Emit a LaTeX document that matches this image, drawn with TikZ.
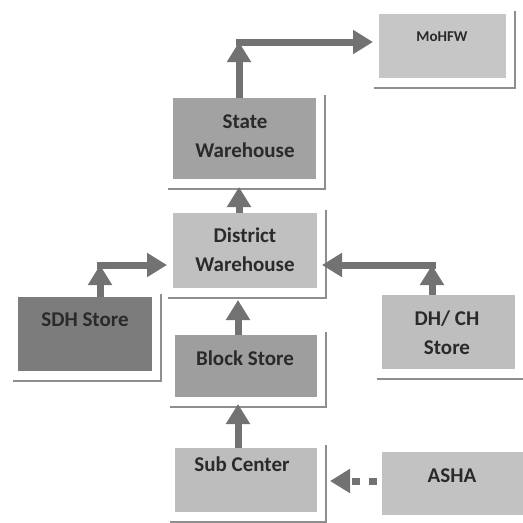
\documentclass[tikz,border=0pt]{standalone}
\usepackage{fontspec}
\setmainfont{Carlito}
\usetikzlibrary{arrows.meta}
\definecolor{txt}{HTML}{2A2A2A}
\definecolor{arrc}{HTML}{727272}
\definecolor{frm}{HTML}{8E8E8E}
\definecolor{cmo}{HTML}{C6C6C6}
\definecolor{cst}{HTML}{A2A2A2}
\definecolor{cdi}{HTML}{C0C0C0}
\definecolor{csd}{HTML}{7C7C7C}
\definecolor{cbl}{HTML}{9E9E9E}
\definecolor{cdh}{HTML}{BEBEBE}
\definecolor{csu}{HTML}{BDBDBD}
\definecolor{cas}{HTML}{C2C2C2}
\tikzset{
  box/.style={draw=none, rectangle, inner sep=0pt},
  lbl/.style={font=\fontsize{21}{29}\selectfont\bfseries, text=txt, align=center, inner sep=0pt},
  arr/.style={draw=arrc, line width=7pt, -{Triangle[width=23pt,length=20pt]}},
  frameline/.style={draw=frm, line width=1.8pt},
}
\newcommand{\frameof}[1]{\draw[frameline] ([xshift=-5pt,yshift=-10pt]#1.south west) -- ([xshift=9pt,yshift=-10pt]#1.south east) -- ([xshift=9pt,yshift=3pt]#1.north east);}
\begin{document}
\begin{tikzpicture}[x=1pt,y=-1pt]
\useasboundingbox[fill=white] (0,0) rectangle (523,523);
% boxes
\node[box, fill=cmo, minimum width=127pt, minimum height=64pt] (mohfw) at (442.5,46) {};
\node[box, fill=cst, minimum width=143pt, minimum height=81pt] (state) at (244.5,138.5) {};
\node[box, fill=cdi, minimum width=144pt, minimum height=75pt] (district) at (245,250.5) {};
\node[box, fill=csd, minimum width=134pt, minimum height=74pt] (sdh) at (85,334) {};
\node[box, fill=cbl, minimum width=142pt, minimum height=62pt] (block) at (246,366) {};
\node[box, fill=cdh, minimum width=133pt, minimum height=74pt] (dhch) at (448.5,332) {};
\node[box, fill=csu, minimum width=142pt, minimum height=64pt] (sub) at (246,480) {};
\node[box, fill=cas, minimum width=148pt, minimum height=63pt] (asha) at (456,483.5) {};
% frames
\frameof{mohfw}
\frameof{state}
\frameof{district}
\frameof{sdh}
\frameof{block}
\frameof{dhch}
\frameof{sub}
% labels
\node[lbl, font=\fontsize{15}{18}\selectfont\bfseries] (tmo) at (442,37) {MoHFW};
\node[lbl] (tst) at (245,136) {State\\Warehouse};
\node[lbl] (tdi) at (245,250) {District\\Warehouse};
\node[lbl] (tsd) at (85,320) {SDH Store};
\node[lbl] (tdh) at (447,333) {DH/ CH\\Store};
\node[lbl] (tbl) at (245,358) {Block Store};
\node[lbl] (tsu) at (242,464) {Sub Center};
\node[lbl] (tas) at (452,476) {ASHA};
% connector corner points
\coordinate (c1) at (239,42);
\coordinate (c1s) at (235.5,42);
\coordinate (c2) at (100,265);
\coordinate (c2s) at (96.5,265);
\coordinate (c3) at (432,265);
\coordinate (c3s) at (435.5,265);
\coordinate (mohin) at (373,42);
\coordinate (diin) at (167,265);
\coordinate (diinr) at (322,265);
\coordinate (sttip) at (239,187);
\coordinate (ditip) at (238,300);
\coordinate (bltip) at (238,404);
\coordinate (sutip) at (330,481);
\coordinate (ashast) at (377,481);
% connectors
\draw[arr] (state.north -| c1) -- (c1);
\draw[arr] (c1s) -- (mohin);
\draw[arr] (sdh.north -| c2) -- (c2);
\draw[arr] (c2s) -- (diin);
\draw[arr] (dhch.north -| c3) -- (c3);
\draw[arr] (c3s) -- (diinr);
\draw[arr] (district.north -| sttip) -- (sttip);
\draw[arr] (block.north -| ditip) -- (ditip);
\draw[arr] (sub.north -| bltip) -- (bltip);
\draw[arr, dash pattern=on 8pt off 9pt] (ashast) -- (sutip);
\end{tikzpicture}
\end{document}
